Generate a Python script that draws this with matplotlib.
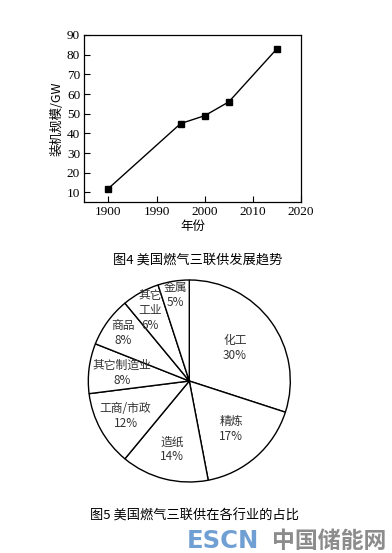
import matplotlib.pyplot as plt
import numpy as np

plt.rcParams['font.family'] = ['Noto Sans CJK SC', 'DejaVu Sans']

# line chart data (x positions on axis; first point is labelled 1900 on the original)
years = [1980, 1995, 2000, 2005, 2015]
capacity = [12, 45, 49, 56, 83]
xtick_pos = [1980, 1990, 2000, 2010, 2020]
xtick_labels = ['1900', '1990', '2000', '2010', '2020']
yticks = [10, 20, 30, 40, 50, 60, 70, 80, 90]

# pie data
sectors = ['化工', '精炼', '造纸', '工商/市政', '其它制造业', '商品', '其它\n工业', '金属']
shares = [30, 17, 14, 12, 8, 8, 6, 5]

W, H = 392, 553
fig = plt.figure(figsize=(W / 100, H / 100), dpi=100)

serif = ['Liberation Serif', 'Noto Sans CJK SC']

# ---- line chart ----
ax = fig.add_axes([84.3 / W, 1 - 202.3 / H, (301 - 84.3) / W, (202.3 - 35) / H])
ax.plot(years, capacity, color='black', lw=1, marker='s', ms=5)
ax.set_xlim(1975, 2020)
ax.set_ylim(5, 90)
ax.set_xticks(xtick_pos)
ax.set_xticklabels(xtick_labels, family=serif, fontsize=9.5)
ax.set_yticks(yticks)
ax.set_yticklabels([str(v) for v in yticks], family=serif, fontsize=9.5)
ax.tick_params(direction='in', length=4, width=0.8, pad=3)
for s in ax.spines.values():
    s.set_linewidth(0.9)
ax.set_xlabel('年份', fontsize=9, labelpad=1)
ax.set_ylabel('装机规模/GW', fontsize=9, labelpad=2)

fig.text(198 / W, 1 - 260 / H, '图4 美国燃气三联供发展趋势', ha='center', va='center',
         fontsize=9.5)

# ---- pie chart ----
cx, cy, r = 189.3, 381, 101
ax2 = fig.add_axes([(cx - r) / W, 1 - (cy + r) / H, 2 * r / W, 2 * r / H])
labels = [f'{n}\n{p}%' for n, p in zip(sectors, shares)]
wedges, texts = ax2.pie(shares, startangle=90, counterclock=False,
                        colors=['white'] * len(shares),
                        wedgeprops=dict(edgecolor='black', linewidth=1))
ax2.set_xlim(-1, 1)
ax2.set_ylim(-1, 1)
ax2.set_aspect('auto')
ax2.axis('off')

label_r = [0.56, 0.63, 0.70, 0.72, 0.67, 0.81, 0.80, 0.86]
for w, lab, lr in zip(wedges, labels, label_r):
    mid = np.deg2rad((w.theta1 + w.theta2) / 2)
    ax2.text(lr * np.cos(mid), lr * np.sin(mid), lab, ha='center', va='center',
             fontsize=8.5, color='#333333', linespacing=1.2)

fig.text(194 / W, 1 - 516 / H, '图5 美国燃气三联供在各行业的占比', ha='center', va='center',
         fontsize=9.5)

# watermark
fig.text(187 / W, 1 - 541 / H, 'ESCN', ha='left', va='center', fontsize=17.5,
         fontweight='bold', color='#6f9fd3', family='DejaVu Sans')
fig.text(386 / W, 1 - 541 / H, '中国储能网', ha='right', va='center', fontsize=16.5,
         fontweight='bold', color='#8c8c8c')

fig.savefig('out.png', dpi=100)
